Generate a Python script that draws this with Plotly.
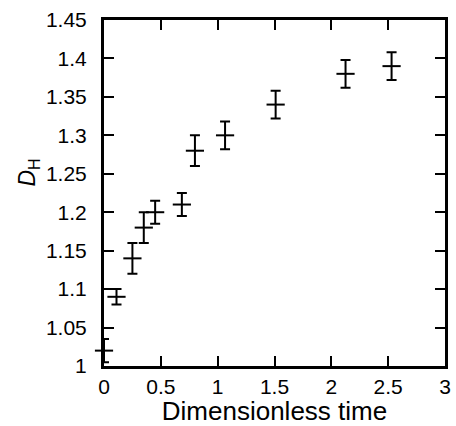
import plotly.graph_objects as go

time = [0.0, 0.11, 0.25, 0.35, 0.45, 0.685, 0.80, 1.065, 1.51, 2.125, 2.53]
dh = [1.02, 1.09, 1.14, 1.18, 1.20, 1.21, 1.28, 1.30, 1.34, 1.38, 1.39]
err = [0.015, 0.01, 0.02, 0.02, 0.015, 0.015, 0.02, 0.018, 0.018, 0.018, 0.018]

x_title = "Dimensionless time"
y_title = "<i>D</i><sub>H</sub>"

fig = go.Figure()
fig.add_trace(go.Scatter(
    x=time, y=dh, mode="markers",
    marker=dict(symbol="line-ew", size=13, color="black", line=dict(color="black", width=2)),
    error_y=dict(type="data", array=err, visible=True, color="black", thickness=2, width=5),
    cliponaxis=False, showlegend=False,
))

font = "Liberation Sans, Arial, sans-serif"
fig.update_layout(
    width=456, height=426,
    margin=dict(l=104, r=5, t=20, b=60),
    paper_bgcolor="white", plot_bgcolor="white",
    font=dict(family=font, color="black", size=21),
    xaxis=dict(
        range=[0, 3], tickvals=[0, 0.5, 1, 1.5, 2, 2.5, 3],
        ticktext=["0", "0.5", "1", "1.5", "2", "2.5", "3"],
        ticks="inside", ticklen=10, tickwidth=2, tickcolor="black",
        showline=True, linewidth=3, linecolor="black", mirror="allticks",
        showgrid=False, zeroline=False,
        tickfont=dict(size=21, color="black"),
        title=dict(text=x_title, font=dict(size=26, color="black"), standoff=1),
    ),
    yaxis=dict(
        range=[1, 1.45], tickvals=[1, 1.05, 1.1, 1.15, 1.2, 1.25, 1.3, 1.35, 1.4, 1.45],
        ticktext=["1", "1.05", "1.1", "1.15", "1.2", "1.25", "1.3", "1.35", "1.4", "1.45"],
        ticks="inside", ticklen=10, tickwidth=2, tickcolor="black",
        showline=True, linewidth=3, linecolor="black", mirror="allticks",
        showgrid=False, zeroline=False,
        tickfont=dict(size=21, color="black"), ticklabelstandoff=10,
    ),
    annotations=[dict(
        text=y_title, textangle=-90, xref="paper", yref="paper",
        x=-0.222, y=0.56, xanchor="center", yanchor="middle", showarrow=False,
        font=dict(size=23, family=font, color="black"),
    )],
)

fig.write_html(
    "out.html",
    config={"displayModeBar": False},
    post_script="document.body.style.margin='0';document.body.style.overflow='hidden';",
)
